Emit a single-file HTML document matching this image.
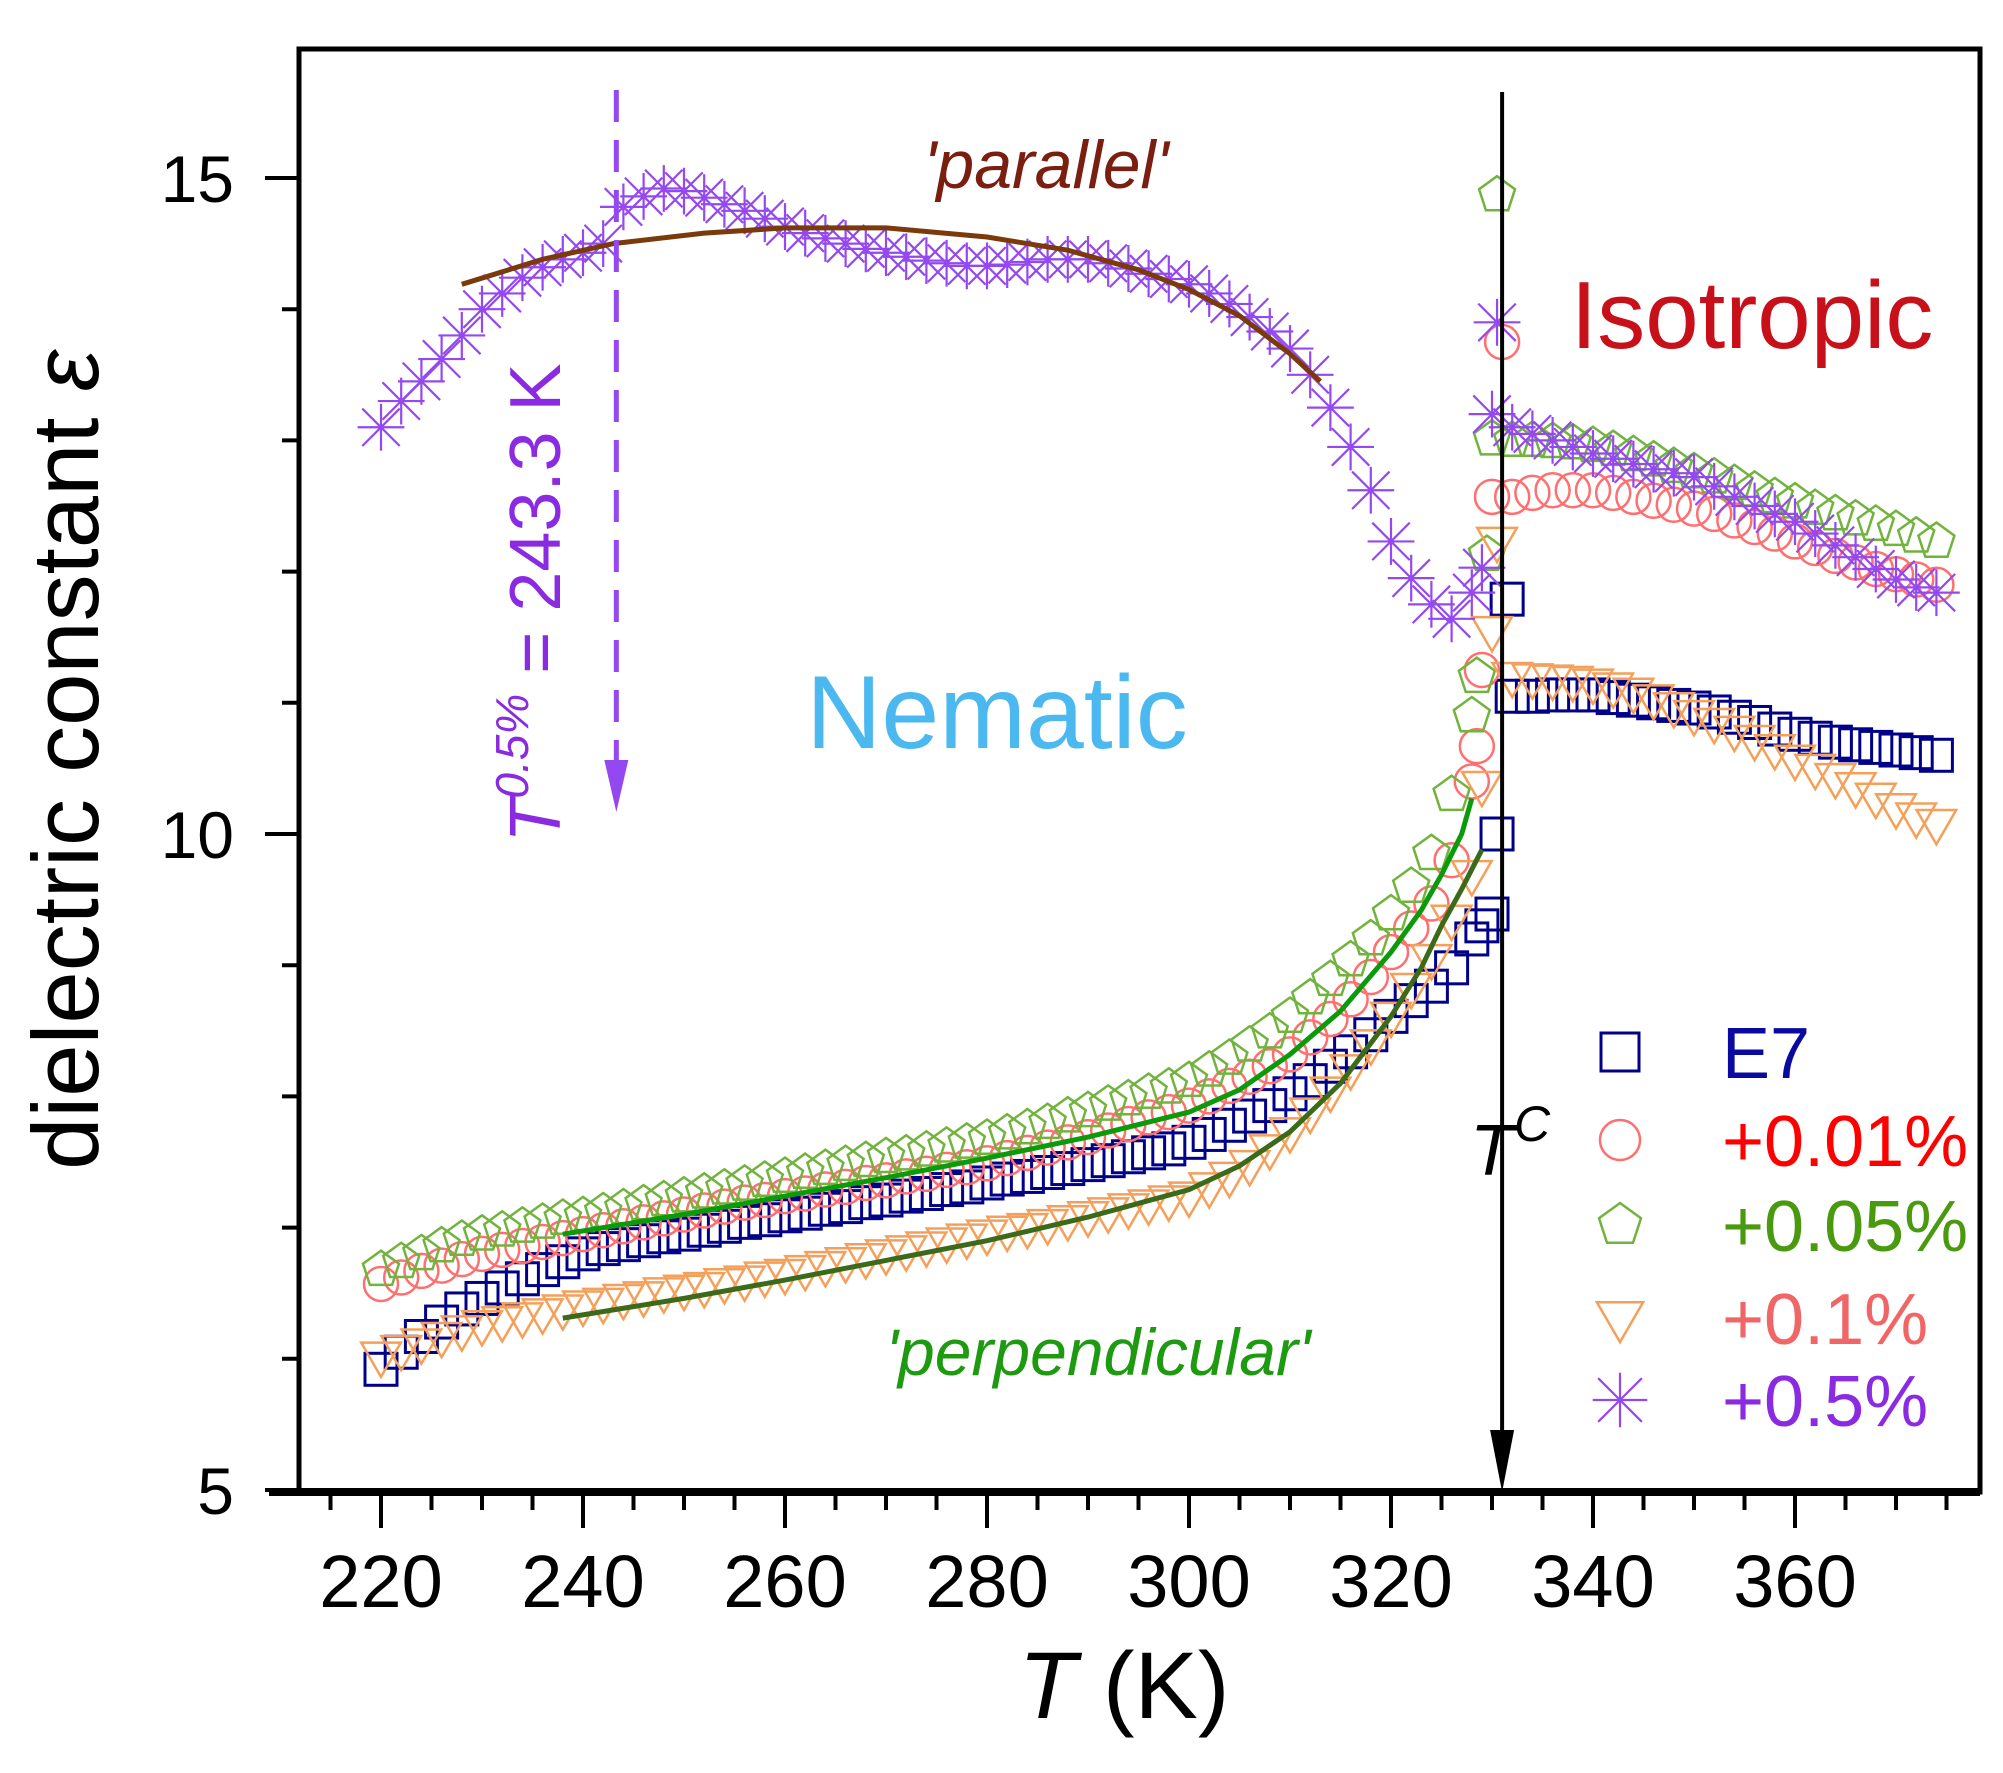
<!DOCTYPE html>
<html><head><meta charset="utf-8"><style>
html,body{margin:0;padding:0;background:#fff;}
svg{display:block;font-family:"Liberation Sans",sans-serif;}
</style></head><body>
<svg id="chart" width="2003" height="1773" viewBox="0 0 2003 1773" xmlns="http://www.w3.org/2000/svg">
<rect width="2003" height="1773" fill="#fff"/>
<g id="marks"></g>
<g id="axes"></g>
<text x="1046" y="188" font-size="68" font-style="italic" fill="#7a1e10" text-anchor="middle">'parallel'</text>
<text x="1752" y="348" font-size="96" fill="#c8101a" text-anchor="middle">Isotropic</text>
<text x="997" y="748" font-size="104" fill="#4bb8f0" text-anchor="middle">Nematic</text>
<text x="1098" y="1375" font-size="66" font-style="italic" fill="#1e9a10" text-anchor="middle">'perpendicular'</text>
<text x="1470" y="1175" font-size="72" fill="#000"><tspan font-style="italic">T</tspan><tspan font-style="italic" font-size="50" dy="-34">C</tspan></text>
<text transform="translate(560,603) rotate(-90)" font-size="72" fill="#8a2be2" text-anchor="middle"><tspan font-style="italic">T</tspan><tspan font-style="italic" font-size="46" dy="-32">0.5%</tspan><tspan dy="32"> = 243.3 K</tspan></text>
<text transform="translate(98,760) rotate(-90)" font-size="94" fill="#000" text-anchor="middle">dielectric constant  <tspan font-style="italic">ε</tspan></text>
<text x="1124" y="1718" font-size="95" fill="#000" text-anchor="middle"><tspan font-style="italic">T</tspan>  (K)</text>
<g id="legend"></g>
</svg>
<script>
const Tn = [220,222,224,226,228,230,232,234,236,238,240,242,244,246,248,250,252,254,256,258,260,262,264,266,268,270,272,274,276,278,280,282,284,286,288,290,292,294,296,298,300,302,304,306,308,310,312,314,316,318,320,322,324,326,328];
const Ti = [332,334,336,338,340,342,344,346,348,350,352,354,356,358,360,362,364,366,368,370,372,374];

const e7Nem = [5.92,6.05,6.17,6.28,6.38,6.46,6.54,6.61,6.68,6.74,6.8,6.84,6.87,6.9,6.93,6.95,6.98,7.01,7.04,7.06,7.09,7.11,7.14,7.16,7.19,7.21,7.24,7.26,7.29,7.31,7.34,7.37,7.39,7.42,7.45,7.48,7.51,7.54,7.57,7.6,7.65,7.71,7.78,7.85,7.93,8.02,8.12,8.23,8.34,8.47,8.61,8.73,8.84,8.98,9.2];
const e7TransT = [329,330,330.5,331.5];
const e7TransV = [9.3,9.39,10.0,11.79];
const e7Iso = [11.05,11.05,11.06,11.06,11.06,11.04,11.02,11.0,10.98,10.96,10.93,10.89,10.85,10.8,10.76,10.73,10.7,10.68,10.66,10.64,10.62,10.6];

const p001Nem = [6.57,6.62,6.67,6.71,6.76,6.8,6.83,6.86,6.89,6.92,6.95,6.98,7.01,7.04,7.07,7.1,7.13,7.16,7.19,7.21,7.24,7.26,7.29,7.31,7.34,7.36,7.39,7.41,7.44,7.46,7.49,7.53,7.57,7.61,7.65,7.69,7.74,7.79,7.84,7.88,7.93,8.0,8.08,8.15,8.23,8.32,8.45,8.59,8.74,8.91,9.1,9.28,9.47,9.8,10.4];
const p001TransT = [328.5,329,330,331];
const p001TransV = [10.67,11.25,12.57,13.75];
const p001Iso = [12.57,12.6,12.62,12.62,12.62,12.6,12.57,12.54,12.51,12.48,12.44,12.39,12.34,12.29,12.23,12.18,12.12,12.07,12.02,11.98,11.94,11.9];

const p005Nem = [6.68,6.74,6.8,6.86,6.91,6.95,6.98,7.01,7.04,7.07,7.09,7.12,7.15,7.18,7.21,7.24,7.27,7.3,7.33,7.36,7.39,7.42,7.45,7.48,7.51,7.54,7.56,7.59,7.62,7.65,7.68,7.72,7.76,7.8,7.85,7.89,7.94,7.98,8.03,8.07,8.12,8.2,8.29,8.39,8.49,8.61,8.75,8.89,9.04,9.2,9.39,9.6,9.85,10.3,10.9];
const p005TransT = [328.5,329.5,330,330.5];
const p005TransV = [11.2,12.13,13.01,14.87];
const p005Iso = [13.0,13.0,12.99,12.98,12.96,12.93,12.89,12.85,12.8,12.76,12.72,12.67,12.62,12.57,12.53,12.48,12.44,12.4,12.36,12.32,12.27,12.23];

const p01Nem = [6.02,6.07,6.12,6.17,6.22,6.26,6.29,6.32,6.35,6.38,6.41,6.43,6.46,6.48,6.51,6.53,6.55,6.58,6.6,6.63,6.65,6.68,6.71,6.74,6.77,6.8,6.83,6.86,6.89,6.92,6.95,6.98,7.0,7.03,7.06,7.09,7.12,7.15,7.18,7.21,7.24,7.31,7.39,7.48,7.6,7.73,7.88,8.04,8.21,8.4,8.61,8.83,9.05,9.35,9.69];
const p01TransT = [329,330,330.5];
const p01TransV = [10.37,11.55,12.23];
const p01Iso = [11.2,11.19,11.18,11.17,11.15,11.12,11.08,11.03,10.97,10.91,10.85,10.79,10.72,10.65,10.57,10.5,10.43,10.36,10.28,10.2,10.13,10.08];

const p05Nem = [13.1,13.3,13.45,13.62,13.8,14.0,14.12,14.24,14.32,14.38,14.43,14.5,14.78,14.86,14.92,14.9,14.85,14.8,14.75,14.69,14.63,14.58,14.54,14.5,14.46,14.43,14.4,14.37,14.35,14.33,14.33,14.34,14.36,14.38,14.38,14.38,14.35,14.31,14.27,14.23,14.19,14.12,14.04,13.94,13.83,13.7,13.5,13.25,12.95,12.62,12.23,11.95,11.75,11.64,11.84];
const p05TransT = [329,330,330.5];
const p05TransV = [12.03,13.2,13.9];
const p05Iso = [13.1,13.05,13.0,12.95,12.9,12.86,12.82,12.78,12.75,12.72,12.65,12.57,12.5,12.44,12.38,12.29,12.2,12.11,12.02,11.94,11.88,11.84];

const parFitT = [228,236,243,252,260,270,280,288,295,300,305,310,313];
const parFitV = [14.19,14.38,14.5,14.58,14.62,14.62,14.55,14.45,14.3,14.15,13.95,13.66,13.45];
const perpUpT = [238,250,260,270,280,290,300,305,310,315,320,323,325,327,328];
const perpUpV = [6.95,7.1,7.24,7.38,7.53,7.69,7.88,8.05,8.32,8.65,9.1,9.42,9.69,10.0,10.27];
const perpLoT = [238,250,260,270,280,290,300,305,310,315,320,323,325,327,329];
const perpLoV = [6.31,6.46,6.6,6.75,6.9,7.08,7.29,7.47,7.73,8.1,8.61,8.98,9.3,9.58,9.88];

const xTicks = [220,240,260,280,300,320,340,360];
const yTicks = [5,10,15];
const legendLabels = ['E7','+0.01%','+0.05%','+0.1%','+0.5%'];

const X0=299, X1=1980, Y0=49, Y1=1492;
function px(t){return 381+(t-220)*10.1;}
function py(v){return 1490-(v-5)*131.2;}
const NS='http://www.w3.org/2000/svg';
function mk(tag,attrs,parent){const e=document.createElementNS(NS,tag);for(const k in attrs)e.setAttribute(k,attrs[k]);parent.appendChild(e);return e;}

function drawMarker(shape,x,y,color,parent,s){
  s=s||18;let e;
  if(shape==='square'){e=mk('rect',{x:x-s+2,y:y-s+2,width:2*s-4,height:2*s-4,fill:'none',stroke:color,'stroke-width':3},parent);}
  else if(shape==='circle'){e=mk('circle',{cx:x,cy:y,r:s-1,fill:'none',stroke:color,'stroke-width':2.5},parent);}
  else if(shape==='pentagon'){let p=[];for(let i=0;i<5;i++){const a=-Math.PI/2+i*2*Math.PI/5;p.push((x+s*1.05*Math.cos(a)).toFixed(1)+','+(y+s*1.05*Math.sin(a)).toFixed(1));}e=mk('polygon',{points:p.join(' '),fill:'none',stroke:color,'stroke-width':2.5},parent);}
  else if(shape==='tri'){e=mk('polygon',{points:`${x-s*1.1},${y-s*0.75} ${x+s*1.1},${y-s*0.75} ${x},${y+s*1.15}`,fill:'none',stroke:color,'stroke-width':2.5},parent);}
  else {const r=s*1.3;e=mk('path',{d:`M${x},${y-r}V${y+r}M${x-r},${y}H${x+r}M${x-r*0.8},${y-r*0.8}L${x+r*0.8},${y+r*0.8}M${x-r*0.8},${y+r*0.8}L${x+r*0.8},${y-r*0.8}`,fill:'none',stroke:color,'stroke-width':2.2},parent);}
  return e;
}

const marks=document.getElementById('marks');
const series=[
 {name:'e7',shape:'square',color:'#000088',nem:e7Nem,tt:e7TransT,tv:e7TransV,iso:e7Iso},
 {name:'plus-0-01',shape:'circle',color:'#ff6f6f',nem:p001Nem,tt:p001TransT,tv:p001TransV,iso:p001Iso},
 {name:'plus-0-05',shape:'pentagon',color:'#72b33e',nem:p005Nem,tt:p005TransT,tv:p005TransV,iso:p005Iso},
 {name:'plus-0-1',shape:'tri',color:'#f5a05a',nem:p01Nem,tt:p01TransT,tv:p01TransV,iso:p01Iso},
 {name:'plus-0-5',shape:'star',color:'#9448f0',nem:p05Nem,tt:p05TransT,tv:p05TransV,iso:p05Iso}
];
series.forEach(s=>{
  const g=mk('g',{},marks);
  
  
  Tn.forEach((t,i)=>{const m=drawMarker(s.shape,px(t),py(s.nem[i]),s.color,g);
    
    });
  s.tt.forEach((t,i)=>{const m=drawMarker(s.shape,px(t),py(s.tv[i]),s.color,g);
    
    });
  Ti.forEach((t,i)=>{const m=drawMarker(s.shape,px(t),py(s.iso[i]),s.color,g);
    
    });
});
function fit(T,V,color,name){
  const d=T.map((t,i)=>(i?'L':'M')+px(t).toFixed(1)+','+py(V[i]).toFixed(1)).join('');
  const p=mk('path',{d:d,fill:'none',stroke:color,'stroke-width':5},marks);
  
  
}
fit(parFitT,parFitV,'#7a3a0a','parallel-fit-line');
fit(perpUpT,perpUpV,'#0a9a0a','perpendicular-fit-upper');
fit(perpLoT,perpLoV,'#3a6a1a','perpendicular-fit-lower');

const axes=document.getElementById('axes');
const xd=px(243.3);
const dl=mk('line',{x1:xd,y1:90,x2:xd,y2:770,stroke:'#9448f0','stroke-width':5,'stroke-dasharray':'32,18'},axes);


const dh=mk('polygon',{points:`${xd-12},760 ${xd+12},760 ${xd},812`,fill:'#9448f0'},axes);


const xc=px(331);
const cl=mk('line',{x1:xc,y1:92,x2:xc,y2:1450,stroke:'#000','stroke-width':4},axes);


const ch=mk('polygon',{points:`${xc-12},1430 ${xc+12},1430 ${xc},1492`,fill:'#000'},axes);


const fr=mk('rect',{x:X0,y:Y0,width:X1-X0,height:Y1-Y0,fill:'none',stroke:'#000','stroke-width':5},axes);


const xa=mk('line',{x1:X0-30,y1:Y1,x2:X1,y2:Y1,stroke:'#000','stroke-width':8},axes);


for(let t=215;t<=375;t+=5){
  const major=xTicks.indexOf(t)>=0;
  const l=mk('line',{x1:px(t),y1:Y1,x2:px(t),y2:Y1+(major?36:18),stroke:'#000','stroke-width':4},axes);
  
  
}
xTicks.forEach(t=>{const e=mk('text',{x:px(t),y:1607,'font-size':74,'text-anchor':'middle',fill:'#000'},axes);e.textContent=t;
  
  });
for(let v=5;v<=15;v++){
  const major=yTicks.indexOf(v)>=0;
  const l=mk('line',{x1:X0,y1:py(v),x2:X0-(major?34:17),y2:py(v),stroke:'#000','stroke-width':4},axes);
  
  
}
yTicks.forEach(v=>{const e=mk('text',{x:234,y:py(v)+24,'font-size':66,'text-anchor':'end',fill:'#000'},axes);e.textContent=v;
  
  });

const leg=document.getElementById('legend');
const legY=[1052,1140,1225,1318,1400];
const legText=['#0a0aa0','#ff0000','#4a9a10','#f06666','#8a2be2'];
series.forEach((s,i)=>{
  const g=mk('g',{},leg);
  
  
  drawMarker(s.shape,1620,legY[i],s.color,g,21);
  const t=mk('text',{x:1722,y:legY[i]+26,'font-size':72,fill:legText[i]},g);
  t.textContent=legendLabels[i];
});
</script>
</body></html>
